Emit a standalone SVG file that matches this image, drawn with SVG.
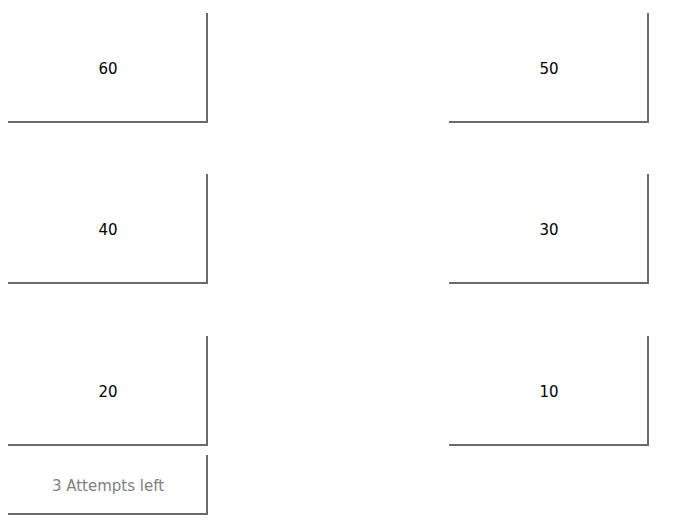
<svg xmlns="http://www.w3.org/2000/svg" width="698" height="523" viewBox="0 0 698 523">
<style>
.edge{fill:none;stroke:#6a6a6a;stroke-width:2}
.lbl{font-family:"DejaVu Sans",Verdana,sans-serif;font-size:15px;fill:#000;text-anchor:middle}
.att{font-family:"DejaVu Sans",Verdana,sans-serif;font-size:15px;fill:#808080;text-anchor:middle}
</style>
<rect width="698" height="523" fill="#fff"/>
<g id="n60"><path class="edge" d="M8,122 H207 V13"/><text class="lbl" x="108" y="74">60</text></g>
<g id="n50"><path class="edge" d="M449,122 H648 V13"/><text class="lbl" x="549" y="74">50</text></g>
<g id="n40"><path class="edge" d="M8,283 H207 V174"/><text class="lbl" x="108" y="235">40</text></g>
<g id="n30"><path class="edge" d="M449,283 H648 V174"/><text class="lbl" x="549" y="235">30</text></g>
<g id="n20"><path class="edge" d="M8,445 H207 V336"/><text class="lbl" x="108" y="397">20</text></g>
<g id="n10"><path class="edge" d="M449,445 H648 V336"/><text class="lbl" x="549" y="397">10</text></g>
<g id="attempts"><path class="edge" d="M8,514 H207 V455"/><text class="att" x="108" y="491">3 Attempts left</text></g>
<g id="connectors"></g>
</svg>
